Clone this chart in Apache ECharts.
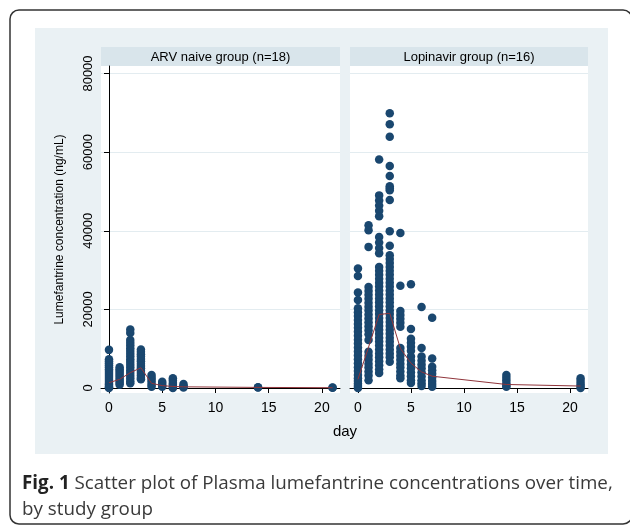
<!DOCTYPE html>
<html>
<head>
<meta charset="utf-8">
<script src="https://cdn.jsdelivr.net/npm/echarts@6/dist/echarts.min.js"></script>
<style>
  html, body { margin: 0; background: #fff; }
  #main { width: 630px; height: 526px; }
</style>
</head>
<body>
<div id="main"></div>
<script>
// sampling days
const days = [0, 1, 2, 3, 4, 5, 6, 7, 14, 21]

// ARV naive group, concentrations per day (ng/mL)
const naiveConc = [
  [9700, 7300, 6800, 6300, 5800, 5300, 4800, 4300, 3800, 3300, 2800, 2300, 1800, 1300, 900, 500, 200, 0],
  [5300, 4800, 4300, 3800, 3300, 2800, 2300, 1800, 1300, 800],
  [14900, 14000, 12200, 11500, 10800, 10100, 9400, 8700, 8000, 7300, 6600, 5900, 5200, 4500, 3800, 3100, 2400, 1700, 1200],
  [9800, 9200, 8600, 8000, 7400, 6800, 6200, 5600, 5000, 4400, 3800, 3200, 2600, 2200],
  [3300, 2700, 2100, 1500, 900, 300],
  [1600, 1100, 600, 300],
  [2500, 1900, 1300, 800, 300, 0],
  [1000, 600, 300, 100],
  [200, 100],
  [150, 50]
]
const naiveMean = [1350, 2200, 3900, 5150, 1200, 600, 400, 300, 150, 80]

// Lopinavir group
const lpvConc = [
  [30400, 28500, 24300, 22400, 20300, 19300, 18300, 17300, 16300, 15300, 14300, 13300, 12300, 11300, 10300, 9300, 8300, 7300, 6300, 5300, 4300, 3300, 2500, 1800, 1100, 500, 0],
  [41400, 40100, 35900, 25700, 24700, 23700, 22700, 21700, 20700, 19700, 18700, 17700, 16700, 15700, 14700, 13700, 12200, 9200, 8200, 7200, 6200, 5200, 4200, 3200, 2000],
  [58100, 49000, 47700, 46400, 45100, 43700, 38400, 37000, 35600, 34300, 30800, 29800, 28800, 27800, 26800, 25800, 24800, 23800, 22800, 21800, 20800, 19800, 18800, 17800, 16800, 15800, 14800, 13800, 12800, 11800, 10800, 9800, 8800, 7800, 6800, 5800, 4800, 3800],
  [69900, 67100, 63900, 56500, 53900, 51300, 50800, 50300, 47800, 39900, 36200, 33800, 32800, 31800, 30800, 29800, 28800, 27800, 26800, 25800, 24800, 23800, 22800, 21800, 20800, 19800, 18800, 17800, 16800, 15800, 14800, 13800, 12800, 11800, 10800, 9800, 8800, 7800, 6700],
  [39400, 26000, 19600, 18600, 17600, 16600, 15600, 10200, 9200, 8200, 7200, 6200, 5200, 4200, 3200, 2500],
  [26400, 15000, 12500, 11500, 10500, 9500, 8000, 7000, 6000, 5000, 4000, 3000, 2000, 1300],
  [20600, 10200, 8000, 7000, 6000, 5000, 4000, 3000, 2000, 1200, 500],
  [17900, 7500, 5400, 4500, 3600, 2700, 1800, 1000, 300],
  [3300, 2600, 1900, 1200, 600, 300],
  [2500, 1800, 1100, 500, 0]
]
const lpvMean = [2200, 10400, 18700, 19000, 10100, 6300, 4100, 3000, 900, 500]

const xTicks = [0, 5, 10, 15, 20]
const yTicks = [0, 20000, 40000, 60000, 80000]
const panelTitles = ['ARV naive group (n=18)', 'Lopinavir group (n=16)']

const navy = '#1a476f'
const maroon = '#90353b'
const gridColor = '#e3ecf0'

function toPoints(conc) {
  let pts = []
  conc.forEach((vals, i) => {
    vals.forEach((v) => pts.push([days[i], v]))
  })
  return pts
}

function xAxisFor(i) {
  return {
    type: 'value',
    gridIndex: i,
    min: -0.75,
    max: 21.7,
    offset: 4,
    axisLine: { lineStyle: { color: '#000', width: 1 } },
    axisTick: { length: 5, customValues: xTicks, lineStyle: { color: '#000' } },
    axisLabel: { customValues: xTicks, color: '#000', fontSize: 14, margin: 4, fontFamily: 'Liberation Sans' },
    splitLine: { show: false }
  }
}

function yAxisFor(i) {
  return {
    type: 'value',
    gridIndex: i,
    min: -1270,
    max: 81910,
    axisLine: { show: i === 0, lineStyle: { color: '#000', width: 1 } },
    axisTick: { show: i === 0, length: 5, customValues: yTicks, lineStyle: { color: '#000' } },
    axisLabel: {
      show: i === 0,
      customValues: yTicks,
      formatter: (v) => String(v),
      rotate: 90,
      color: '#000',
      fontSize: 13,
      margin: 6,
      fontFamily: 'Liberation Sans'
    },
    splitLine: { show: true, lineStyle: { color: gridColor, width: 1 } },
    name: i === 0 ? 'Lumefantrine concentration (ng/mL)' : '',
    nameLocation: 'middle',
    nameGap: 35,
    nameTextStyle: { color: '#000', fontSize: 12, fontFamily: 'Liberation Sans' }
  }
}

const chart = echarts.init(document.getElementById('main'))

const option = {
  animation: false,
  backgroundColor: '#fff',
  grid: [
    { left: 101, top: 66, width: 239, height: 327, show: true, backgroundColor: '#fff', borderWidth: 0 },
    { left: 350, top: 66, width: 238, height: 327, show: true, backgroundColor: '#fff', borderWidth: 0 }
  ],
  xAxis: [xAxisFor(0), xAxisFor(1)],
  yAxis: [yAxisFor(0), yAxisFor(1)],
  graphic: [
    // outer figure frame
    { type: 'rect', z: -20, shape: { x: 10, y: 10, width: 622, height: 514, r: 9 },
      style: { fill: '#fff', stroke: '#333', lineWidth: 1.5 } },
    // stata graph region
    { type: 'rect', z: -10, shape: { x: 35, y: 28, width: 573, height: 426 },
      style: { fill: '#eaf1f4' } },
    // panel strips
    { type: 'rect', shape: { x: 101, y: 47, width: 239, height: 19 }, style: { fill: '#d9e5eb' } },
    { type: 'rect', shape: { x: 350, y: 47, width: 238, height: 19 }, style: { fill: '#d9e5eb' } },
    { type: 'text', x: 220.5, y: 57, style: { text: panelTitles[0], fill: '#000', font: '13px "Liberation Sans"', textAlign: 'center', textVerticalAlign: 'middle' } },
    { type: 'text', x: 469, y: 57, style: { text: panelTitles[1], fill: '#000', font: '13px "Liberation Sans"', textAlign: 'center', textVerticalAlign: 'middle' } },
    // shared x title
    { type: 'text', x: 345, y: 432, style: { text: 'day', fill: '#000', font: '15px "Liberation Sans"', textAlign: 'center', textVerticalAlign: 'middle' } },
    // caption
    { type: 'text', x: 22, y: 471,
      style: {
        text: '{b|Fig. 1} Scatter plot of Plasma lumefantrine concentrations over time,\nby study group',
        fill: '#3a3a3a',
        fontFamily: 'Open Sans',
        fontSize: 18.8,
        lineHeight: 26,
        rich: { b: { fontWeight: 'bold', fill: '#222', fontFamily: 'Open Sans', fontSize: 18.8, lineHeight: 26 } }
      } }
  ],
  series: [
    { type: 'scatter', xAxisIndex: 0, yAxisIndex: 0, data: toPoints(naiveConc), symbolSize: 8.5,
      itemStyle: { color: navy, opacity: 1 }, clip: false },
    { type: 'scatter', xAxisIndex: 1, yAxisIndex: 1, data: toPoints(lpvConc), symbolSize: 8.5,
      itemStyle: { color: navy, opacity: 1 }, clip: false },
    { type: 'line', xAxisIndex: 0, yAxisIndex: 0, data: days.map((d, i) => [d, naiveMean[i]]),
      showSymbol: false, lineStyle: { color: maroon, width: 1 }, z: 3 },
    { type: 'line', xAxisIndex: 1, yAxisIndex: 1, data: days.map((d, i) => [d, lpvMean[i]]),
      showSymbol: false, lineStyle: { color: maroon, width: 1 }, z: 3 }
  ]
}

chart.setOption(option)
</script>
</body>
</html>
